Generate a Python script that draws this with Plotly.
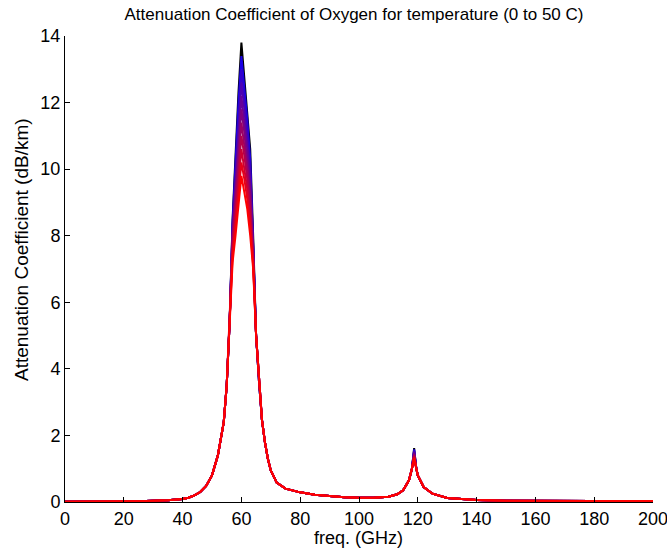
import plotly.graph_objects as go

# Temperatures (C) of the curves
temperatures = [0, 5, 10, 15, 20, 25, 30, 35, 40, 45, 50]

# Shared wing values (curves overlap there)
freq_left = [0, 5, 10, 15, 20, 25, 30, 35, 40, 42, 44, 46, 48, 50, 52, 54, 55, 56]
att_left = [0.01, 0.01, 0.012, 0.015, 0.02, 0.025, 0.035, 0.05, 0.09, 0.13, 0.2, 0.3,
            0.48, 0.8, 1.4, 2.4, 3.5, 5.4]

# Peak region (60 GHz complex), one list per temperature
freq_peak = [57, 58, 59, 60, 61, 62, 63, 64]
peak_T0 = [8.5, 10.5, 12.3, 13.8, 12.8, 11.8, 10.6, 8.0]
peak_T5 = [8.4, 10.3, 12.0, 13.4, 12.5, 11.5, 10.3, 7.9]
peak_T10 = [8.3, 10.0, 11.6, 13.0, 12.1, 11.2, 10.0, 7.8]
peak_T15 = [8.2, 9.8, 11.3, 12.6, 11.8, 10.9, 9.8, 7.7]
peak_T20 = [8.1, 9.5, 10.9, 12.2, 11.4, 10.6, 9.5, 7.6]
peak_T25 = [8.0, 9.3, 10.6, 11.8, 11.1, 10.3, 9.3, 7.5]
peak_T30 = [7.9, 9.0, 10.2, 11.4, 10.7, 10.0, 9.0, 7.4]
peak_T35 = [7.7, 8.8, 9.9, 11.0, 10.4, 9.7, 8.8, 7.3]
peak_T40 = [7.5, 8.5, 9.5, 10.6, 10.0, 9.4, 8.5, 7.2]
peak_T45 = [7.4, 8.3, 9.2, 10.2, 9.7, 9.1, 8.3, 7.1]
peak_T50 = [7.2, 8.0, 8.8, 9.8, 9.3, 8.8, 8.0, 7.0]

freq_mid = [65, 66, 67, 68, 69, 70, 72, 75, 80, 85, 90, 95, 100, 105, 110, 113, 115, 117, 118]
att_mid = [5.0, 3.6, 2.46, 1.8, 1.3, 0.95, 0.58, 0.4, 0.29, 0.22, 0.17, 0.14, 0.13, 0.13,
           0.16, 0.23, 0.35, 0.65, 1.0]

# 118.75 GHz line peak per temperature
freq_line118 = [118.75]
line118_peak = [1.62, 1.58, 1.55, 1.52, 1.49, 1.46, 1.43, 1.40, 1.37, 1.34, 1.31]

freq_right = [119.5, 120, 122, 125, 130, 135, 140, 150, 160, 180, 200]
att_right = [1.0, 0.8, 0.45, 0.25, 0.12, 0.08, 0.06, 0.04, 0.03, 0.03, 0.03]

peaks = [peak_T0, peak_T5, peak_T10, peak_T15, peak_T20, peak_T25,
         peak_T30, peak_T35, peak_T40, peak_T45, peak_T50]

fig = go.Figure()
n = len(temperatures)
for i, (T, pk, p118) in enumerate(zip(temperatures, peaks, line118_peak)):
    t = i / (n - 1)
    if i == 0:
        col = "rgb(0,0,0)"
    else:
        col = f"rgb({int(255 * t)},0,{int(255 * (1 - t))})"
    x = freq_left + freq_peak + freq_mid + freq_line118 + freq_right
    y = att_left + pk + att_mid + [p118] + att_right
    fig.add_trace(go.Scatter(x=x, y=y, mode="lines", line=dict(color=col, width=2),
                             name=f"{T} C", showlegend=False, hoverinfo="skip"))

W, H = 667, 551
L, R, T_, B = 65, 653, 36, 502
pw, ph = R - L, B - T_

font_family = "Liberation Sans, Arial"
fig.update_layout(
    width=W, height=H,
    margin=dict(l=L, r=W - R, t=T_, b=H - B, pad=0),
    paper_bgcolor="white", plot_bgcolor="white",
    title=dict(text="Attenuation Coefficient of Oxygen for temperature (0 to 50 C)",
               x=354 / W, xanchor="center", y=1 - 14 / H, yanchor="middle",
               font=dict(family=font_family, size=17, color="black")),
    xaxis=dict(range=[0, 200], tickmode="array", tickvals=list(range(0, 201, 20)),
               ticks="inside", ticklen=5, tickcolor="black", showline=True,
               linecolor="black", linewidth=1, showgrid=False, zeroline=False,
               automargin=False, ticklabeloverflow="allow",
               tickfont=dict(family=font_family, size=18, color="black")),
    yaxis=dict(range=[0, 14], tickmode="array", tickvals=list(range(0, 15, 2)),
               ticks="inside", ticklen=5, tickcolor="black", showline=True,
               linecolor="black", linewidth=1, showgrid=False, zeroline=False,
               automargin=False, ticklabeloverflow="allow",
               tickfont=dict(family=font_family, size=18, color="black")),
    annotations=[
        dict(text="freq. (GHz)", xref="paper", yref="paper",
             x=(358 - L) / pw, y=-(538 - B) / ph, xanchor="center", yanchor="middle",
             showarrow=False, font=dict(family=font_family, size=18, color="black")),
        dict(text="Attenuation Coefficient (dB/km)", xref="paper", yref="paper",
             x=-(L - 22) / pw, y=(B - 250) / ph, xanchor="center", yanchor="middle",
             textangle=-90, showarrow=False,
             font=dict(family=font_family, size=19, color="black")),
    ],
)

fig.write_html("out.html", config={"displayModeBar": False},
               post_script="document.body.style.margin='0';document.body.style.overflow='hidden';")
